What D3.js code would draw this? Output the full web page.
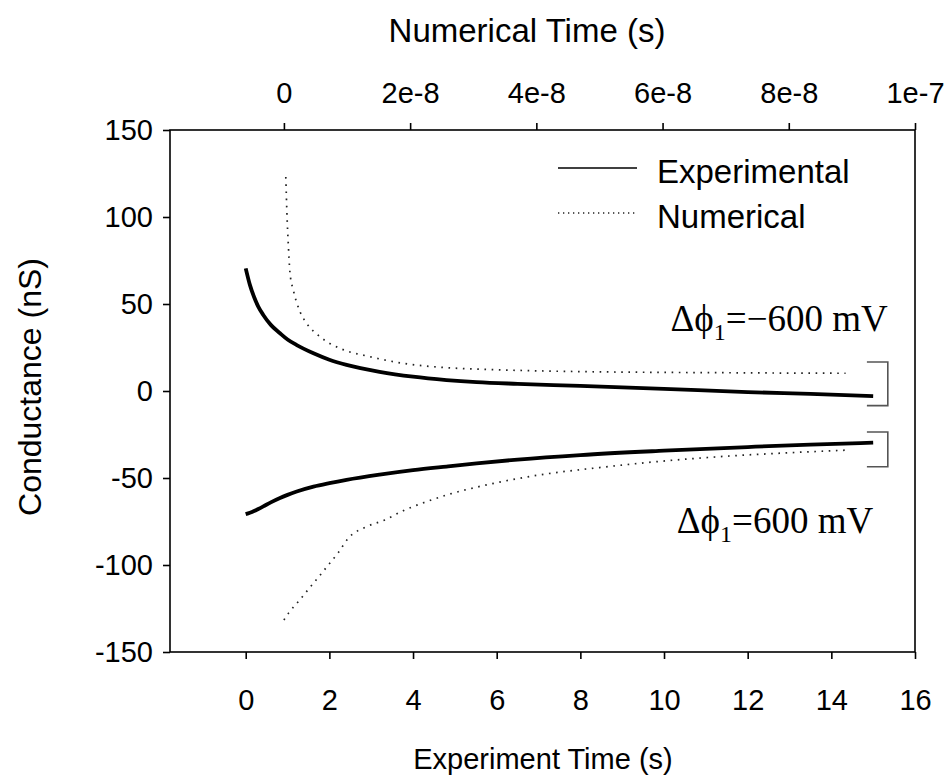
<!DOCTYPE html>
<html>
<head>
<meta charset="utf-8">
<script src="https://cdn.jsdelivr.net/npm/d3@7"></script>
<style>
  body { margin: 0; background: #fff; }
  svg { display: block; font-family: "Liberation Sans", Arial, sans-serif; }
  .axis path, .axis line { stroke: #000; stroke-width: 1.6; }
  .axis text { font-size: 29px; fill: #000; }
  .exp { fill: none; stroke: #000; stroke-width: 3.8; stroke-linejoin: round; }
  .num { fill: none; stroke: #222; stroke-width: 1.7; stroke-dasharray: 1.6 5.6; }
  .bracket { fill: none; stroke: #555; stroke-width: 1.6; }
</style>
</head>
<body>
<svg class="plot"></svg>
<script>
// chart data
const expTime = [0, 0.1, 0.2, 0.3, 0.42, 0.6, 0.82, 1.0, 1.22, 1.62, 2.0, 2.41, 3.2, 4.0, 4.8, 5.52, 6.5, 8, 10, 12, 13.5, 15]
const expNeg600 = [70.5, 61, 54, 48.5, 43.7, 38, 33.2, 29.6, 26.4, 21.7, 18, 15, 11, 8.2, 6.3, 5.1, 4.1, 2.9, 1.2, -0.6, -1.7, -2.9]
const expPos600 = [-70.8, -70, -69, -67.8, -66.3, -64, -61.5, -59.7, -57.8, -55, -53, -51.1, -48.1, -45.5, -43.4, -41.6, -39.4, -36.8, -34.3, -32.2, -30.8, -29.7]

const numTimeNeg = [0.03e-8, 0.05e-8, 0.07e-8, 0.097e-8, 0.149e-8, 0.255e-8, 0.361e-8, 0.572e-8, 0.889e-8,
  1.364e-8, 1.892e-8, 2.58e-8, 3.05e-8, 4e-8, 5e-8, 6e-8, 7e-8, 8e-8, 8.9e-8]
const numNeg600 = [123, 100, 83.9, 67.6, 58, 45.6, 38.9, 31.2, 24.5, 19.7, 15.9, 13.4, 12.6, 11.6, 11, 10.7, 10.5, 10.3, 10.2]
const numTimePos = [0, 0.07e-8, 0.228e-8, 0.387e-8, 0.545e-8, 0.704e-8, 0.862e-8, 1.02e-8, 1.31e-8, 1.6e-8,
  1.89e-8, 2.26e-8, 2.63e-8, 3.05e-8, 4e-8, 5e-8, 6e-8, 7e-8, 8e-8, 8.97e-8]
const numPos600 = [-131.6, -127.8, -121.1, -114, -107.1, -100, -92.9, -84.6, -78, -74.1,
  -68.8, -63.6, -59.2, -55.3, -48.5, -44, -40.3, -37.5, -35.5, -33.9]

const bottomTicks = [0, 2, 4, 6, 8, 10, 12, 14, 16]
const topTicks = [0, 2e-8, 4e-8, 6e-8, 8e-8, 1e-7]
const topTickLabels = ['0', '2e-8', '4e-8', '6e-8', '8e-8', '1e-7']
const yTicks = [-150, -100, -50, 0, 50, 100, 150]

const legendNames = ['Experimental', 'Numerical']
// bracket spans (experiment time, conductance) and their labels
const brackets = [
  { x: [14.85, 15.35], y: [16.7, -8.4] },
  { x: [14.85, 15.35], y: [-23.6, -43.5] },
]
const bracketLabels = [
  { x: 15.35, y: 34.5, pre: 'Δϕ', sub: '1', post: '=−600 mV' },
  { x: 15.0, y: -81.6, pre: 'Δϕ', sub: '1', post: '=600 mV' },
]

const W = 948, H = 781
const frame = { left: 170, right: 915, top: 130, bottom: 652 }

const xScale = d3.scaleLinear()
  .domain([-1.81, 16])
  .range([frame.left, frame.right])
const xTopScale = d3.scaleLinear()
  .domain([-1.805e-8, 1e-7])
  .range([frame.left, frame.right])
const yScale = d3.scaleLinear()
  .domain([-150, 150])
  .range([frame.bottom, frame.top])

const svg = d3.select('.plot')
    .attr('width', W)
    .attr('height', H)

// Axes
// ====
svg.append('g')
    .attr('class', 'axis')
    .attr('transform', `translate(0, ${frame.bottom})`)
    .call(d3.axisBottom(xScale).tickValues(bottomTicks).tickSize(7).tickSizeOuter(0).tickPadding(30)
      .tickFormat(d => String(d)))
svg.append('g')
    .attr('class', 'axis')
    .attr('transform', `translate(0, ${frame.top})`)
    .call(d3.axisTop(xTopScale).tickValues(topTicks).tickSize(7).tickSizeOuter(0).tickPadding(20)
      .tickFormat((d, i) => topTickLabels[i]))
svg.append('g')
    .attr('class', 'axis')
    .attr('transform', `translate(${frame.left}, 0)`)
    .call(d3.axisLeft(yScale).tickValues(yTicks).tickSize(7).tickSizeOuter(0).tickPadding(10)
      .tickFormat(d => String(d)))
svg.selectAll('.axis .domain').remove()

// frame
svg.append('rect')
    .attr('x', frame.left)
    .attr('y', frame.top)
    .attr('width', frame.right - frame.left)
    .attr('height', frame.bottom - frame.top)
    .attr('fill', 'none')
    .attr('stroke', '#000')
    .attr('stroke-width', 1.6)

// axis titles
svg.append('text')
    .attr('x', 527)
    .attr('y', 42)
    .attr('text-anchor', 'middle')
    .attr('font-size', 33)
    .text('Numerical Time (s)')
svg.append('text')
    .attr('x', 543)
    .attr('y', 769)
    .attr('text-anchor', 'middle')
    .attr('font-size', 29)
    .text('Experiment Time (s)')
svg.append('text')
    .attr('transform', `translate(41, 387) rotate(-90)`)
    .attr('text-anchor', 'middle')
    .attr('font-size', 32)
    .text('Conductance (nS)')

// Curves
// ======
const expLine = d3.line()
  .x(d => xScale(d[0]))
  .y(d => yScale(d[1]))
  .curve(d3.curveMonotoneX)
const numLine = d3.line()
  .x(d => xTopScale(d[0]))
  .y(d => yScale(d[1]))
  .curve(d3.curveMonotoneX)

const plot = svg.append('g')
plot.selectAll('path.num')
    .data([d3.zip(numTimeNeg, numNeg600), d3.zip(numTimePos, numPos600)])
  .enter().append('path')
    .attr('class', 'num')
    .attr('d', numLine)
plot.selectAll('path.exp')
    .data([d3.zip(expTime, expNeg600), d3.zip(expTime, expPos600)])
  .enter().append('path')
    .attr('class', 'exp')
    .attr('d', expLine)

// brackets
plot.selectAll('path.bracket')
    .data(brackets)
  .enter().append('path')
    .attr('class', 'bracket')
    .attr('d', b => `M${xScale(b.x[0])},${yScale(b.y[0])}H${xScale(b.x[1])}V${yScale(b.y[1])}H${xScale(b.x[0])}`)

// labels
const lab = plot.selectAll('text.lab')
    .data(bracketLabels)
  .enter().append('text')
    .attr('class', 'lab')
    .attr('x', d => xScale(d.x))
    .attr('y', d => yScale(d.y))
    .attr('text-anchor', 'end')
    .attr('font-family', '"Liberation Serif", "Times New Roman", serif')
    .attr('font-size', 37)
lab.append('tspan').text(d => d.pre)
lab.append('tspan').attr('font-size', 24).attr('dy', 9).text(d => d.sub)
lab.append('tspan').attr('dy', -9).text(d => d.post)

// Legend
// ======
const legend = svg.append('g')
legendNames.forEach((name, i) => {
  const y = 168 + i * 45
  legend.append('line')
      .attr('class', i === 0 ? 'exp' : 'num')
      .attr('x1', 558).attr('x2', 637)
      .attr('y1', y).attr('y2', y)
      .style('stroke-width', i === 0 ? 1.6 : 1.5)
      .style('stroke-dasharray', i === 0 ? null : '1.3 3.7')
  legend.append('text')
      .attr('x', 657)
      .attr('y', y + 15)
      .attr('font-size', 33)
      .text(name)
})
</script>
</body>
</html>
